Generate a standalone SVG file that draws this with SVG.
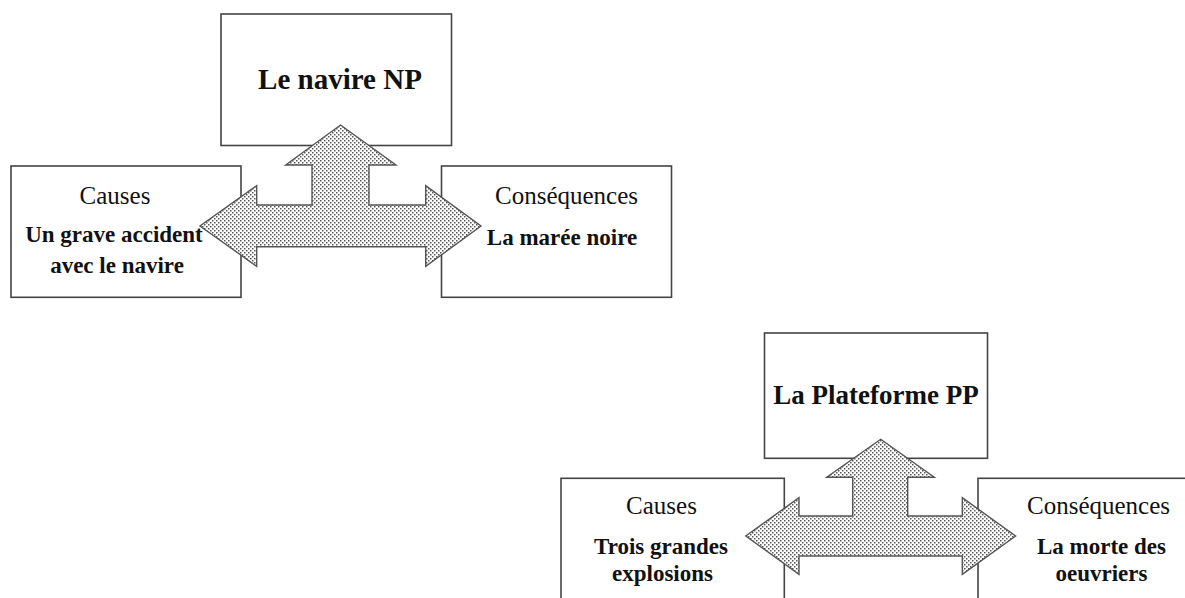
<svg xmlns="http://www.w3.org/2000/svg" width="1185" height="598" viewBox="0 0 1185 598">
<defs>
<pattern id="dots" width="4" height="4" patternUnits="userSpaceOnUse">
<rect width="4" height="4" fill="#ffffff"/>
<rect x="0" y="0" width="1.5" height="1.5" fill="#555555"/>
<rect x="2" y="2" width="1.5" height="1.5" fill="#555555"/>
</pattern>
</defs>
<style>
.box{fill:#ffffff;stroke:#444444;stroke-width:1.6}
.arrow{fill:url(#dots);stroke:#555555;stroke-width:1.4;stroke-linejoin:miter}
.t{font-family:"Liberation Serif","Times New Roman",serif;fill:#111111;text-anchor:middle}
.h{font-weight:bold}
.b{font-weight:bold;font-size:23px}
.r{font-size:25px}
</style>
<rect width="1185" height="598" fill="#ffffff"/>

<g id="np-top">
<rect class="box" x="221" y="14" width="230.5" height="131.5"/>
<text class="t h" x="340" y="89" font-size="29">Le navire NP</text>
</g>
<g id="np-causes">
<rect class="box" x="11" y="166" width="230" height="131.3"/>
<text class="t r" x="115" y="204">Causes</text>
<text class="t b" x="114" y="242">Un grave accident</text>
<text class="t b" x="117" y="273">avec le navire</text>
</g>
<g id="np-consequences">
<rect class="box" x="441.5" y="166" width="230" height="131.3"/>
<text class="t r" x="566.5" y="204">Conséquences</text>
<text class="t b" x="562" y="245">La marée noire</text>
</g>

<g id="pp-top">
<rect class="box" x="764.5" y="333" width="223" height="125.3"/>
<text class="t h" x="876" y="404" font-size="27">La Plateforme PP</text>
</g>
<g id="pp-causes">
<rect class="box" x="561" y="478.3" width="223.3" height="130"/>
<text class="t r" x="661.5" y="514">Causes</text>
<text class="t b" x="661" y="554">Trois grandes</text>
<text class="t b" x="662.5" y="581">explosions</text>
</g>
<g id="pp-consequences">
<rect class="box" x="978" y="478.3" width="220" height="130"/>
<text class="t r" x="1098.5" y="514">Conséquences</text>
<text class="t b" x="1101.5" y="554">La morte des</text>
<text class="t b" x="1101.5" y="581">oeuvriers</text>
</g>

<g id="connectors">
<polygon class="arrow" points="340.5,125 396,165 369,165 369,205 425.7,205 425.7,185.7 481,226 425.7,266.3 425.7,246.7 256.7,246.7 256.7,266.3 200,226 256.7,185.7 256.7,205 312,205 312,165 285.7,165"/>
<polygon class="arrow" points="880.7,439.3 934.3,477.3 907.7,477.3 907.7,516 962.3,516 962.3,497.7 1015.6,536 962.3,574.3 962.3,556 799,556 799,574.3 745.8,536 799,497.7 799,516 852.7,516 852.7,477.3 826.7,477.3"/>
</g>
</svg>
